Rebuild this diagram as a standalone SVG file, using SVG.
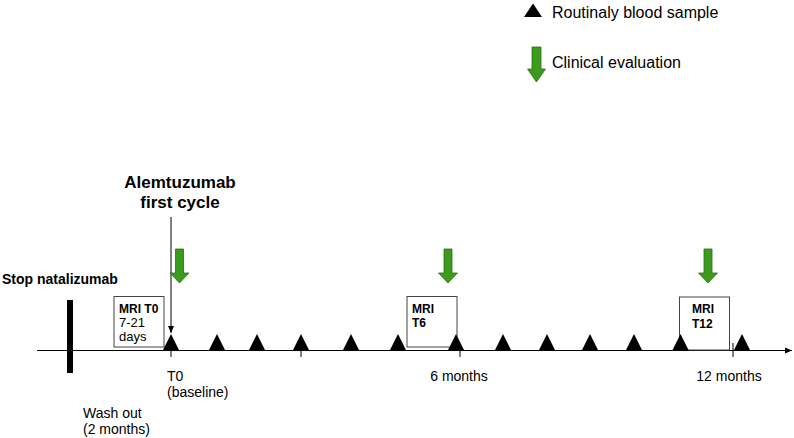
<svg xmlns="http://www.w3.org/2000/svg" xmlns:xlink="http://www.w3.org/1999/xlink" width="794" height="438" viewBox="0 0 794 438">
<style>
text{font-family:"Liberation Sans",Arial,sans-serif;fill:#000}
.b{font-weight:bold}
.lbl{font-size:14px}
.box{fill:#fff;stroke:#444;stroke-width:1}
.mri{font-size:12px;font-weight:bold}
.mrn{font-size:13px}
.line{stroke:#000;stroke-width:1;fill:none}
.garrow{fill:#3c9a1c;stroke:#2a6e12;stroke-width:0.8}
</style>
<defs>
<path id="tri" d="M-8.5,0 L0,-17 L8.5,0 Z" fill="#000"/>
<marker id="ah" markerWidth="8" markerHeight="8" refX="7" refY="4" orient="auto" markerUnits="userSpaceOnUse">
<path d="M0,1 L7,4 L0,7 Z" fill="#000"/>
</marker>
<path id="garr" d="M-4,0 L4,0 L4,24 L9.5,24 L0,34 L-9.5,24 L-4,24 Z"/>
</defs>

<g id="legend">
<path d="M524,17 L533,3.5 L542,17 Z" fill="#000"/>
<text x="552" y="18" font-size="16">Routinaly blood sample</text>
<path class="garrow" d="M532,47 L541,47 L541,69 L545.5,69 L536.5,82 L527.5,69 L532,69 Z"/>
<text x="552" y="68" font-size="16">Clinical evaluation</text>
</g>

<g id="connectors">
<line class="line" x1="37" y1="350.5" x2="792" y2="350.5" marker-end="url(#ah)"/>
<line class="line" x1="171" y1="217" x2="171" y2="333" marker-end="url(#ah)" stroke="#222"/>
<line class="line" x1="171" y1="350" x2="171" y2="357"/>
<line class="line" x1="301" y1="350" x2="301" y2="357"/>
<line class="line" x1="460" y1="350" x2="460" y2="357"/>
<line class="line" x1="733" y1="343" x2="733" y2="357"/>
</g>

<g id="stop">
<rect x="67" y="300" width="6" height="73" fill="#000"/>
<text x="2" y="284" class="b" font-size="14">Stop natalizumab</text>
</g>

<g id="alemtuzumab">
<text x="180" y="188" class="b" font-size="17" text-anchor="middle">Alemtuzumab</text>
<text x="180" y="208" class="b" font-size="17" text-anchor="middle">first cycle</text>
</g>

<g id="mri-t0">
<rect class="box" x="114" y="296.5" width="50" height="50.5"/>
<text x="119" y="313" class="mri">MRI T0</text>
<text x="119" y="327" class="mrn">7-21</text>
<text x="119" y="341" class="mrn">days</text>
</g>

<g id="mri-t6">
<rect class="box" x="407" y="296.5" width="50" height="50.5"/>
<text x="412" y="313" class="mri">MRI</text>
<text x="412" y="327" class="mri">T6</text>
</g>

<g id="mri-t12">
<rect class="box" x="679.5" y="297" width="50" height="53"/>
<text x="692" y="313" class="mri">MRI</text>
<text x="692" y="328" class="mri">T12</text>
</g>

<g id="blood-samples">
<use xlink:href="#tri" x="171" y="351"/>
<use xlink:href="#tri" x="217" y="351"/>
<use xlink:href="#tri" x="257" y="351"/>
<use xlink:href="#tri" x="301" y="351"/>
<use xlink:href="#tri" x="351" y="351"/>
<use xlink:href="#tri" x="398" y="351"/>
<use xlink:href="#tri" x="456" y="351"/>
<use xlink:href="#tri" x="503" y="351"/>
<use xlink:href="#tri" x="547" y="351"/>
<use xlink:href="#tri" x="590" y="351"/>
<use xlink:href="#tri" x="634" y="351"/>
<use xlink:href="#tri" x="680.5" y="351"/>
<use xlink:href="#tri" x="742" y="351"/>
</g>

<g id="clinical-evaluations">
<use xlink:href="#garr" class="garrow" x="179.5" y="249"/>
<use xlink:href="#garr" class="garrow" x="448" y="249"/>
<use xlink:href="#garr" class="garrow" x="708" y="249"/>
</g>

<g id="labels">
<text x="167" y="381" class="lbl">T0</text>
<text x="167" y="397" class="lbl">(baseline)</text>
<text x="83" y="418" class="lbl">Wash out</text>
<text x="83" y="434" class="lbl">(2 months)</text>
<text x="459" y="381" class="lbl" text-anchor="middle">6 months</text>
<text x="729" y="381" class="lbl" text-anchor="middle">12 months</text>
</g>
</svg>
